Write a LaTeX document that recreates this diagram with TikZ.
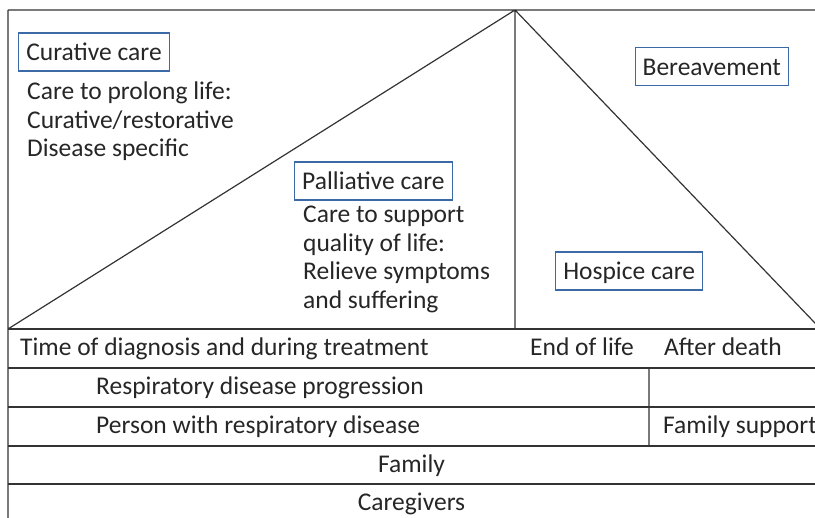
\documentclass[tikz,border=0pt]{standalone}
\usepackage{fontspec}
\setmainfont{Carlito}
\definecolor{linegray}{HTML}{333333}
\definecolor{boxblue}{HTML}{3C6AA6}
\definecolor{txt}{HTML}{262626}
\tikzset{
	carebox/.style={draw=boxblue,line width=1.1pt,inner xsep=7.5pt,inner ysep=0pt,
		minimum height=38pt,text height=18pt,text depth=0pt},
	lbl/.style={inner sep=0pt,align=left},
}
\begin{document}
\begin{tikzpicture}[x=1pt,y=-1pt,font=\fontsize{25.5}{28.5}\selectfont,text=txt]
	\def\L{8}
	\def\R{830}
	\useasboundingbox (0,0) rectangle (815,518);
	\clip (0,0) rectangle (815,518);
	\path
	(\L,10) coordinate (T0) (\R,10) coordinate (T1)
	(515,10) coordinate (A)
	(\L,329) coordinate (B) (515,329) coordinate (H)
	(820.7,329) coordinate (C)
	(\L,530) coordinate (Z)
	(649,368) coordinate (P) (649,446) coordinate (Q);
	\draw[linegray,line width=1.2pt] (T0)--(T1) (T0)--(Z) (B)--(A)--(C) (A)--(H) (P)--(Q);
	\foreach \rowy in {329,368,407,446,484}
		\draw[linegray,line width=1.2pt] (\L,\rowy)--(\R,\rowy);
	% boxes and texts above the time line (base = last line)
	\node[carebox] (curative) at (94,52) {Curative care};
	\node[lbl,anchor=base west] (curtxt) at (27,157)
		{Care to prolong life:\\Curative/restorative\\Disease specific};
	\node[carebox] (palliative) at (373.4,181) {Palliative care};
	\node[lbl,anchor=base west] (paltxt) at (303,308.5)
		{Care to support\\quality of life:\\Relieve symptoms\\and suffering};
	\node[carebox] (bereavement) at (711.8,66.4) {Bereavement};
	\node[carebox] (hospice) at (629.2,271) {Hospice care};
	% rows
	\node[lbl,anchor=base west] (diag) at (20,356) {Time of diagnosis and during treatment};
	\node[lbl,anchor=base west] (eol) at (530,356) {End of life};
	\node[lbl,anchor=base west] (death) at (664,356) {After death};
	\node[lbl,anchor=base west] (prog) at (96,395) {Respiratory disease progression};
	\node[lbl,anchor=base west] (person) at (96,434) {Person with respiratory disease};
	\node[lbl,anchor=base west] (famsup) at (663,434) {Family support};
	\node[lbl,anchor=base] (family) at (411.5,473) {Family};
	\node[lbl,anchor=base] (carers) at (411.5,511) {Caregivers};
\end{tikzpicture}
\end{document}
